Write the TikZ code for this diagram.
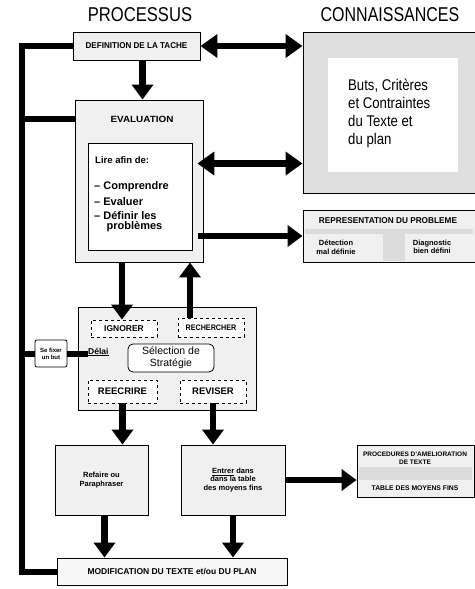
\documentclass[tikz,border=0pt]{standalone}
\usepackage{fontspec}
\setmainfont{Liberation Sans}
\usetikzlibrary{arrows.meta}
\newcommand\nar[2]{\scalebox{#1}[1]{#2}}
\newcommand\fs[1]{\fontsize{#1}{1.15\dimexpr #1pt\relax}\selectfont}
\begin{document}
\begin{tikzpicture}[x=1pt,y=-1pt,
  box/.style={draw, line width=0.9pt, fill=gray!12, inner sep=0pt},
  wbox/.style={draw, line width=0.8pt, fill=white, inner sep=0pt},
  lbl/.style={inner sep=0pt, align=center},
  arr/.style={line width=6.5pt, -{Triangle[length=15pt,width=21pt]}},
  darr/.style={line width=6.5pt, {Triangle[length=17pt,width=23pt]}-{Triangle[length=17pt,width=23pt]}},
  bar/.style={line width=6pt, line join=miter},
  band/.style={fill=gray!28, draw=none}]
\useasboundingbox (0,0) rectangle (474,589);
% titles
\node[inner sep=0pt, font=\fs{20}] (tp) at (140,15) {\nar{0.83}{PROCESSUS}};
\node[inner sep=0pt, font=\fs{20}] (tc) at (390,15) {\nar{0.8}{CONNAISSANCES}};
% definition
\node[box, minimum width=127pt, minimum height=28pt] (def) at (136.5,46) {};
\node[lbl, font=\bfseries\fs{8.5}] (deft) at (def) {\nar{0.95}{DEFINITION DE LA TACHE}};
% connaissances
\node[draw, line width=1pt, fill=gray!25, inner sep=0pt, minimum width=172pt, minimum height=161pt] (conn) at (389,112.5) {};
\node[fill=white, inner sep=0pt, minimum width=130pt, minimum height=114pt] (conni) at (393,115) {};
\node[inner sep=0pt, align=left, anchor=north west, font=\fs{15.5}] (buts) at (348,79) {\nar{0.85}{Buts, Critères}\\ \nar{0.85}{et Contraintes}\\ \nar{0.85}{du Texte et}\\ \nar{0.85}{du plan}};
% evaluation
\node[box, minimum width=128pt, minimum height=162pt] (eval) at (139,181) {};
\node[lbl, font=\bfseries\fs{9}] (evt) at (142,119) {\nar{1.1}{EVALUATION}};
\node[wbox, minimum width=104pt, minimum height=107pt] (evin) at (140,196.5) {};
\node[lbl, anchor=west, font=\bfseries\fs{9.5}] (lire) at (95,160) {Lire afin de:};
\node[lbl, anchor=west, font=\bfseries\fs{11}] (l1) at (94,187) {– Comprendre};
\node[lbl, anchor=west, font=\bfseries\fs{11}] (l2) at (94,202) {– Evaluer};
\node[lbl, anchor=west, font=\bfseries\fs{11}] (l3) at (94,216) {– Définir les};
\node[lbl, anchor=west, font=\bfseries\fs{11}] (l4) at (106.5,227) {problèmes};
% representation
\node[box, minimum width=172pt, minimum height=52pt] (rep) at (389,236) {};
\fill[band] (305,229) rectangle (473,234);
\fill[band] (383,234) rectangle (405,261);
\node[lbl, font=\bfseries\fs{8.5}] (rept) at (388,221) {\nar{0.97}{REPRESENTATION DU PROBLEME}};
\node[lbl, font=\bfseries\fs{7.5}] (det) at (336,247) {Détection\\ mal définie};
\node[lbl, font=\bfseries\fs{7.5}] (diag) at (432,247) {Diagnostic\\ bien défini};
% strategy
\node[box, minimum width=178pt, minimum height=103pt] (strat) at (167,358.5) {};
\node[wbox, dashed, minimum width=66pt, minimum height=17pt] (ign) at (124,328.5) {};
\node[lbl, font=\bfseries\fs{8.5}] at (ign) {IGNORER};
\node[wbox, dashed, minimum width=66pt, minimum height=19pt] (rech) at (211,327.5) {};
\node[lbl, font=\bfseries\fs{8}] at (rech) {\nar{0.9}{RECHERCHER}};
\node[wbox, rounded corners=5pt, minimum width=86pt, minimum height=28pt] (sel) at (171,358) {};
\node[lbl, font=\fs{10.5}] at (sel) {Sélection de\\ Stratégie};
\node[lbl, anchor=west, font=\bfseries\fs{8.5}] (delai) at (88,352) {\underline{Délai}};
\node[wbox, dashed, minimum width=69pt, minimum height=23pt] (reec) at (122.5,391.5) {};
\node[lbl, font=\bfseries\fs{9.5}] at (reec) {REECRIRE};
\node[wbox, dashed, minimum width=66pt, minimum height=23pt] (rev) at (213,391.5) {};
\node[lbl, font=\bfseries\fs{9.5}] at (rev) {REVISER};
\node[wbox, rounded corners=2pt, minimum width=32pt, minimum height=27pt] (fix) at (51,353.5) {};
\node[lbl, font=\bfseries\fs{6}] at (fix) {Se fixer\\ un but};
% lower boxes
\node[box, minimum width=93pt, minimum height=70pt] (ref) at (101.5,480) {};
\node[lbl, font=\bfseries\fs{7.5}] at (ref) {Refaire ou\\ Paraphraser};
\node[box, minimum width=104pt, minimum height=70pt] (ent) at (233,480) {};
\node[lbl, font=\bfseries\fs{7.5}] at (ent) {\underline{Entrer} dans\\ dans la table\\ des moyens fins};
\node[box, minimum width=117pt, minimum height=52pt] (proc) at (415.5,471) {};
\fill[band] (359,467) rectangle (472,480);
\node[lbl, font=\bfseries\fs{6.5}] (proct) at (415,458) {PROCEDURES D'AMELIORATION\\ DE TEXTE};
\node[lbl, font=\bfseries\fs{6.8}] (tab) at (415,488) {TABLE DES MOYENS FINS};
\node[box, fill=gray!6, minimum width=230pt, minimum height=27pt] (mod) at (172,571.5) {};
\node[lbl, font=\bfseries\fs{8.5}] at (mod) {MODIFICATION DU TEXTE et/ou DU PLAN};
% left feedback line
\coordinate (L) at (22,46);
\draw[bar] (def.west) -- (L) |- (mod.west);
\draw[bar] (L |- evt) -- (evt -| eval.west);
\draw[bar] (L |- fix) -- (fix.west);
\draw[bar] (fix.east) -- (fix.east -| delai.west);
% arrows
\draw[darr] (def.east) -- (def.east -| conn.west);
\draw[arr] ([xshift=6pt]def.south) -- ([xshift=6pt]def.south |- eval.north);
\draw[darr] ([xshift=5pt,yshift=33pt]evin.east) -- ([yshift=33pt]evin.east -| conn.west);
\draw[arr] ([xshift=6pt]evin.east |- rep.west) -- (rep.west);
\draw[arr] ([xshift=-2pt]ign.north |- eval.south) -- ([xshift=-2pt]ign.north);
\draw[arr] ([xshift=-21pt]rech.north) -- ([xshift=-21pt]rech.north |- eval.south);
\draw[arr] (reec.south) -- (reec.south |- ref.north);
\draw[arr] (rev.south) -- (rev.south |- ent.north);
\draw[arr] (ent.east) -- (ent.east -| proc.west);
\draw[arr] ([xshift=3pt]ref.south) -- ([xshift=3pt]ref.south |- mod.north);
\draw[arr] (ent.south) -- (ent.south |- mod.north);
\end{tikzpicture}
\end{document}
